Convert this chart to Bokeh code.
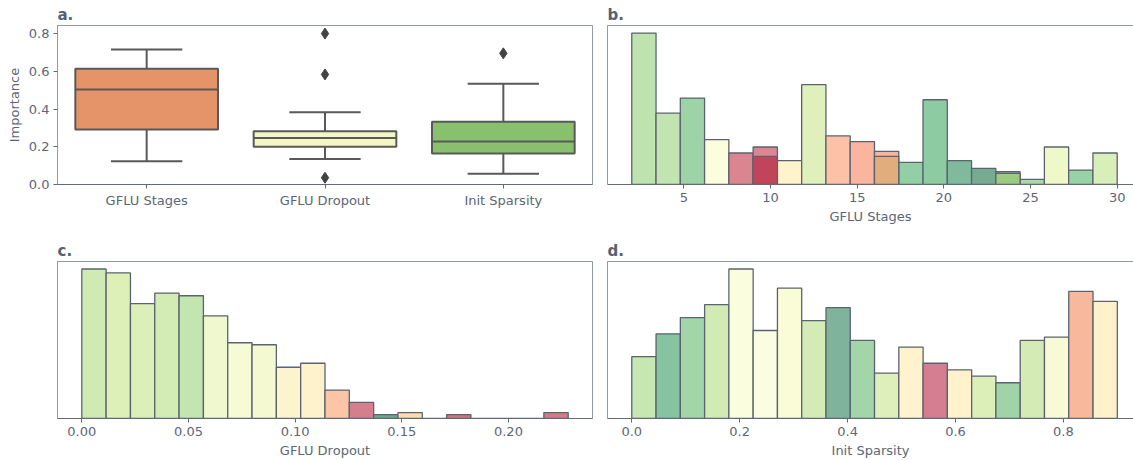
import numpy as np
from bokeh.plotting import figure
from bokeh.layouts import column, row
from bokeh.models import Range1d, FixedTicker, LinearAxis, ColumnDataSource
from bokeh.embed import file_html
from bokeh.resources import INLINE

# ---------------- data ----------------
box_categories = ["GFLU Stages", "GFLU Dropout", "Init Sparsity"]
box_q1 = [0.292, 0.201, 0.165]
box_median = [0.505, 0.247, 0.228]
box_q3 = [0.615, 0.283, 0.334]
box_lower = [0.123, 0.135, 0.057]
box_upper = [0.717, 0.384, 0.535]
box_colors = ["#e5946a", "#f4f6c5", "#89c06e"]
outlier_cat = [1, 1, 1, 2]
outlier_val = [0.802, 0.585, 0.036, 0.697]

stages_range = (2.0, 30.0)
stages_counts = [45.2, 21.3, 25.8, 13.4, 9.4, 11.2, 7.1, 29.8, 14.5, 12.8,
                 9.9, 6.6, 25.3, 7.1, 4.8, 3.8, 1.5, 11.2, 4.3, 9.4]
stages_colors = ["#bfe3ae", "#c2e4b1", "#9dd3a6", "#fcfddc", "#db8591",
                 "#dc8692", "#fef3cb", "#dff0bd", "#fdc1a7", "#fbb59e",
                 "#fcb39b", "#93cfa5", "#8dcca3", "#80ba9c", "#76ab91",
                 "#a9d28f", "#a9d9a9", "#eef8c8", "#98d3a8", "#d8efba"]
# overlaid (second layer) bars in panel b
stages_overlay_bin = [5, 10, 15]
stages_overlay_counts = [8.4, 8.4, 3.3]
stages_overlay_colors = ["#c1445b", "#e2ad7c", "#9bca80"]

dropout_range = (0.0, 0.228)
dropout_counts = [45.2, 44.0, 34.7, 37.9, 37.1, 31.0, 22.9, 22.3, 15.5, 16.7,
                  8.6, 4.9, 1.2, 1.8, 0.0, 1.2, 0.0, 0.0, 0.0, 1.8]
dropout_colors = ["#d0eab3", "#dcf0b8", "#dbefb9", "#d3ebb4", "#c3e5b0",
                  "#f0f8d0", "#f6fad5", "#f4f9d2", "#fdf3cd", "#fdf2cc",
                  "#fbc5a6", "#d67f8c", "#6aa88c", "#fdddb0", "#ffffff",
                  "#d5717f", "#ffffff", "#ffffff", "#ffffff", "#d67a87"]

sparsity_range = (0.0, 0.9)
sparsity_counts = [18.7, 25.6, 30.5, 34.4, 45.2, 26.6, 39.4, 29.6, 33.5, 23.6,
                   13.7, 21.6, 16.7, 14.7, 12.8, 10.8, 23.6, 24.6, 38.4, 35.4]
sparsity_colors = ["#c6e6b2", "#86c3a1", "#a2d5a8", "#d2ebb4", "#fbfddf",
                   "#fbfde0", "#fafcd8", "#d3ebb5", "#7fb39b", "#a2d5a8",
                   "#dfefbb", "#fff3cd", "#d57d91", "#fff2cc", "#dcefb9",
                   "#a0d4a6", "#d4ebb5", "#f8fad6", "#f8b89c", "#fff1cc"]

# ---------------- style ----------------
FONT = "DejaVu Sans"
TEXT = "#5c6677"
OUTLINE = "#9199a3"
AXIS = "#5f6a7a"
EDGE = "#5b6370"
BOXLINE = "#595959"


def base_fig(width, height, xr, yr, mb):
    p = figure(width=width, height=height, output_backend="svg",
               toolbar_location=None, x_range=Range1d(*xr), y_range=Range1d(*yr),
               min_border_left=mb[0], min_border_right=mb[1],
               min_border_top=mb[2], min_border_bottom=mb[3])
    p.xgrid.visible = False
    p.ygrid.visible = False
    p.background_fill_color = "white"
    p.border_fill_color = "white"
    p.outline_line_color = OUTLINE
    p.outline_line_width = 1
    for ax in (p.xaxis, p.yaxis):
        ax.axis_line_color = AXIS
        ax.major_tick_line_color = AXIS
        ax.major_tick_out = 4
        ax.major_tick_in = 0
        ax.minor_tick_line_color = None
        ax.major_label_text_font = FONT
        ax.major_label_text_font_size = "13px"
        ax.major_label_text_color = TEXT
        ax.axis_label_text_font = FONT
        ax.axis_label_text_font_size = "13px"
        ax.axis_label_text_color = TEXT
        ax.axis_label_text_font_style = "normal"
    p.yaxis.axis_line_color = OUTLINE
    p.title.text_font = FONT
    p.title.text_font_size = "15px"
    p.title.text_font_style = "bold"
    p.title.text_color = "#566174"
    p.title.align = "left"
    p.title.standoff = 4
    p.title.offset = 0
    return p


def hist(p, rng, counts, colors):
    edges = np.linspace(rng[0], rng[1], len(counts) + 1)
    src = ColumnDataSource(dict(left=edges[:-1], right=edges[1:],
                                top=counts, color=colors))
    p.quad(left="left", right="right", bottom=0, top="top", source=src,
           fill_color="color", line_color=EDGE, line_width=1.3)
    return edges


def hide_y(p):
    p.yaxis.ticker = FixedTicker(ticks=[])
    p.yaxis.major_tick_line_color = None
    p.yaxis.major_label_standoff = 0


def open_right(p):
    p.outline_line_color = None
    top = LinearAxis(ticker=FixedTicker(ticks=[]), axis_line_color=OUTLINE,
                     major_tick_line_color=None, minor_tick_line_color=None,
                     major_label_standoff=0)
    p.add_layout(top, "above")


# ---------------- panel a: boxplot ----------------
pa = base_fig(600, 230, (-0.5, 2.5), (0, 0.845), (57, 8, 25, 46))
pa.title.text = "a."
cats = np.arange(len(box_categories))
pa.segment(x0=cats, y0=box_q3, x1=cats, y1=box_upper, line_color=BOXLINE, line_width=2)
pa.segment(x0=cats, y0=box_q1, x1=cats, y1=box_lower, line_color=BOXLINE, line_width=2)
pa.segment(x0=cats - 0.2, y0=box_upper, x1=cats + 0.2, y1=box_upper, line_color=BOXLINE, line_width=2)
pa.segment(x0=cats - 0.2, y0=box_lower, x1=cats + 0.2, y1=box_lower, line_color=BOXLINE, line_width=2)
pa.vbar(x=cats, width=0.8, bottom=box_q1, top=box_q3, fill_color=box_colors,
        line_color=BOXLINE, line_width=2)
pa.segment(x0=cats - 0.4, y0=box_median, x1=cats + 0.4, y1=box_median,
           line_color=BOXLINE, line_width=2)
pa.scatter(x=outlier_cat, y=outlier_val, marker="diamond", size=11,
           fill_color="#434343", line_color="#434343")
pa.xaxis.ticker = FixedTicker(ticks=list(cats))
pa.xaxis.major_label_overrides = {int(i): c for i, c in enumerate(box_categories)}
pa.xaxis.major_label_standoff = 4
pa.yaxis.ticker = FixedTicker(ticks=[0.0, 0.2, 0.4, 0.6, 0.8])
pa.yaxis.major_label_overrides = {0.0: "0.0", 0.2: "0.2", 0.4: "0.4", 0.6: "0.6", 0.8: "0.8"}
pa.yaxis.axis_label = "Importance"
pa.yaxis.major_label_standoff = 4
pa.yaxis.axis_label_standoff = 4
pa.yaxis.major_tick_line_color = AXIS

YR = (0, 47.46)

# ---------------- panel b ----------------
pb = base_fig(533, 230, (0.6, 30.94), YR, (7, 0, 25, 46))
pb.title.text = "b."
edges_b = hist(pb, stages_range, stages_counts, stages_colors)
ov_left = [edges_b[i] for i in stages_overlay_bin]
ov_right = [edges_b[i + 1] for i in stages_overlay_bin]
pb.quad(left=ov_left, right=ov_right, bottom=0, top=stages_overlay_counts,
        fill_color=stages_overlay_colors, line_color=EDGE, line_width=1.3)
pb.xaxis.ticker = FixedTicker(ticks=[5, 10, 15, 20, 25, 30])
pb.xaxis.axis_label = "GFLU Stages"
pb.xaxis.major_label_standoff = 4
pb.xaxis.axis_label_standoff = 4
hide_y(pb)
open_right(pb)

# ---------------- panel c ----------------
pc = base_fig(600, 230, (-0.0114, 0.2394), YR, (57, 8, 31, 41))
pc.title.text = "c."
hist(pc, dropout_range, dropout_counts, dropout_colors)
pc.xaxis.ticker = FixedTicker(ticks=[0.0, 0.05, 0.10, 0.15, 0.20])
pc.xaxis.major_label_overrides = {0.0: "0.00", 0.05: "0.05", 0.1: "0.10", 0.15: "0.15", 0.2: "0.20"}
pc.xaxis.axis_label = "GFLU Dropout"
pc.xaxis.major_label_standoff = 4
pc.xaxis.axis_label_standoff = 4
hide_y(pc)

# ---------------- panel d ----------------
pd_ = base_fig(533, 230, (-0.045, 0.930), YR, (7, 0, 31, 41))
pd_.title.text = "d."
hist(pd_, sparsity_range, sparsity_counts, sparsity_colors)
pd_.xaxis.ticker = FixedTicker(ticks=[0.0, 0.2, 0.4, 0.6, 0.8])
pd_.xaxis.major_label_overrides = {0.0: "0.0", 0.2: "0.2", 0.4: "0.4", 0.6: "0.6", 0.8: "0.8"}
pd_.xaxis.axis_label = "Init Sparsity"
pd_.xaxis.major_label_standoff = 4
pd_.xaxis.axis_label_standoff = 4
hide_y(pd_)
open_right(pd_)

layout = column(row(pa, pb, spacing=0), row(pc, pd_, spacing=0), spacing=0)
open("out.html", "w").write(file_html(layout, INLINE))
